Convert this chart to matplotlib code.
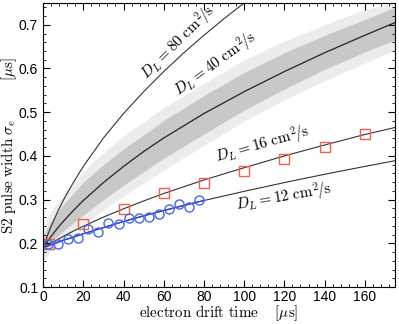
import matplotlib.pyplot as plt
from matplotlib.ticker import MultipleLocator

plt.rcParams['font.family'] = ['Liberation Sans', 'DejaVu Sans']
plt.rcParams['mathtext.fontset'] = 'cm'

# drift time grid [us] used for the diffusion curves
t_curve = [0, 1, 2, 4, 7, 10, 15, 20, 30, 40, 50, 60, 80, 100, 120, 140, 160, 175]
sig_d40 = [0.190, 0.197, 0.203, 0.216, 0.234, 0.250, 0.275, 0.298, 0.339, 0.376,
           0.410, 0.441, 0.497, 0.547, 0.593, 0.636, 0.676, 0.705]
sig_d16 = [0.190, 0.193, 0.196, 0.201, 0.208, 0.216, 0.228, 0.239, 0.260, 0.279,
           0.297, 0.314, 0.345, 0.373, 0.400, 0.425, 0.449, 0.465]
sig_d12 = [0.190, 0.192, 0.193, 0.197, 0.202, 0.207, 0.214, 0.222, 0.236, 0.250,
           0.263, 0.275, 0.298, 0.319, 0.339, 0.358, 0.376, 0.389]

t_d80 = [0, 1, 2, 4, 7, 10, 15, 20, 30, 40, 50, 60, 70, 80, 90, 100, 105]
sig_d80 = [0.190, 0.203, 0.216, 0.239, 0.270, 0.298, 0.339, 0.376, 0.441, 0.497,
           0.547, 0.593, 0.636, 0.676, 0.714, 0.750, 0.767]

# blue fit through the small data set
fit_t = [1, 2, 4, 7, 10, 15, 20, 30, 40, 50, 60, 70, 80]
fit_sig = [0.192, 0.193, 0.197, 0.202, 0.207, 0.214, 0.222, 0.236, 0.250,
           0.263, 0.275, 0.287, 0.298]

# grey event cloud: outline of dense core and sparse fringe
cloud_t = [0, 2, 5, 10, 20, 30, 40, 60, 80, 100, 120, 140, 160, 175]
core_lo = [0.178, 0.192, 0.207, 0.228, 0.265, 0.300, 0.333, 0.395, 0.450, 0.505, 0.553, 0.598, 0.638, 0.665]
core_hi = [0.212, 0.236, 0.258, 0.288, 0.340, 0.380, 0.416, 0.481, 0.538, 0.591, 0.636, 0.676, 0.712, 0.740]
fringe_lo = [0.158, 0.172, 0.188, 0.208, 0.243, 0.276, 0.308, 0.368, 0.424, 0.480, 0.528, 0.572, 0.612, 0.642]
fringe_hi = [0.232, 0.258, 0.280, 0.312, 0.365, 0.408, 0.446, 0.510, 0.566, 0.620, 0.663, 0.700, 0.735, 0.750]

# red squares
sq_t = [3, 20, 40, 60, 80, 100, 120, 140, 160]
sq_sig = [0.198, 0.244, 0.279, 0.315, 0.338, 0.366, 0.393, 0.421, 0.450]

# blue circles
circ_t = [2.5, 7.5, 12.5, 17.5, 22.5, 27.5, 32.5, 37.5, 42.5, 47.5, 52.5, 57.5,
          62.5, 67.5, 72.5, 77.5]
circ_sig = [0.198, 0.199, 0.209, 0.212, 0.232, 0.227, 0.247, 0.244, 0.257, 0.257,
            0.261, 0.267, 0.278, 0.289, 0.284, 0.299]

fig = plt.figure(figsize=(3.99, 3.24), dpi=100)
ax = fig.add_axes([0.108, 0.114, 0.882, 0.877])

ax.fill_between(cloud_t, fringe_lo, fringe_hi, color='#ececec', lw=0)
ax.fill_between(cloud_t, core_lo, core_hi, color='#c8c8c8', lw=0)

ax.plot(t_d80, sig_d80, color='#333333', lw=0.8)
ax.plot(t_curve, sig_d40, color='#222222', lw=0.9)
ax.plot(t_curve, sig_d16, color='#333333', lw=0.8)
ax.plot(t_curve, sig_d12, color='#333333', lw=0.8)
ax.plot(fit_t, fit_sig, color='#2a3fd8', lw=0.9)

ax.plot(sq_t, sq_sig, 's', ms=7, mfc='none', mec='#f0604a', mew=1.0)
ax.plot(circ_t, circ_sig, 'o', ms=6.5, mfc='none', mec='#4466f0', mew=1.0)

lbl = dict(fontsize=11, va='center', rotation_mode='anchor')
ax.text(84.5, 0.737, r'$D_L = 80\ \mathrm{cm}^2\!/\mathrm{s}$', rotation=45, ha='right', **lbl)
ax.text(86, 0.610, r'$D_L = 40\ \mathrm{cm}^2\!/\mathrm{s}$', rotation=36, ha='center', **lbl)
ax.text(109, 0.424, r'$D_L = 16\ \mathrm{cm}^2\!/\mathrm{s}$', rotation=16, ha='center', **lbl)
ax.text(120, 0.304, r'$D_L = 12\ \mathrm{cm}^2\!/\mathrm{s}$', rotation=10, ha='center', **lbl)

ax.set_xlim(0, 175)
ax.set_ylim(0.1, 0.75)
ax.xaxis.set_major_locator(MultipleLocator(20))
ax.xaxis.set_minor_locator(MultipleLocator(4))
ax.yaxis.set_major_locator(MultipleLocator(0.1))
ax.yaxis.set_minor_locator(MultipleLocator(0.02))
ax.tick_params(which='both', direction='in', top=True, right=True, labelsize=10)
ax.tick_params(which='major', length=5, width=0.8)
ax.tick_params(which='minor', length=2.5, width=0.6)
ax.tick_params(axis='x', which='major', pad=2)

ax.set_xlabel(r'$\mathrm{electron\ drift\ time}\quad\ [\mu\mathrm{s}]$', fontsize=10.8, labelpad=0)
ax.set_ylabel(r'$\mathrm{S2\ pulse\ width}\ \sigma_e\qquad\quad[\mu\mathrm{s}]$', fontsize=10.8, labelpad=0)

fig.savefig('out.png', dpi=100)
